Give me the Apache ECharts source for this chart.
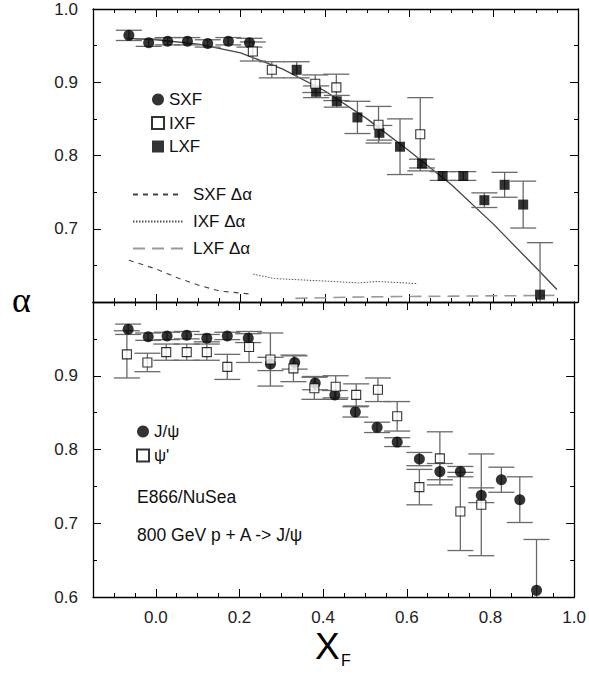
<!DOCTYPE html>
<html><head><meta charset="utf-8">
<script src="https://cdn.jsdelivr.net/npm/echarts@6/dist/echarts.min.js"></script>
<style>html,body{margin:0;padding:0;background:#fff}#c{width:589px;height:675px}</style>
</head><body><div id="c"></div>
<script>
// ---------- data ----------
// top panel
const sxfX = [-0.065, -0.018, 0.027, 0.074, 0.122, 0.171, 0.221];
const sxfY = [0.964, 0.954, 0.956, 0.956, 0.953, 0.956, 0.954];
const sxfErr = [0.007, 0.005, 0.005, 0.005, 0.005, 0.005, 0.006];
const ixfX = [0.229, 0.274, 0.377, 0.427, 0.527, 0.626];
const ixfY = [0.942, 0.917, 0.898, 0.893, 0.842, 0.829];
const ixfErr = [0.013, 0.011, 0.012, 0.018, 0.025, 0.050];
const lxfX = [0.333, 0.379, 0.428, 0.477, 0.529, 0.578, 0.630, 0.679, 0.728, 0.778, 0.826, 0.870, 0.910];
const lxfY = [0.917, 0.887, 0.874, 0.852, 0.831, 0.812, 0.789, 0.772, 0.772, 0.739, 0.760, 0.733, 0.610];
const lxfErr = [0.011, 0.008, 0.008, 0.022, 0.010, 0.038, 0.006, 0.006, 0.006, 0.010, 0.017, 0.032, 0.071];
const fitX = [-0.07, 0.0, 0.1, 0.2, 0.3, 0.4, 0.5, 0.6, 0.7, 0.8, 0.9, 0.95];
const fitY = [0.960, 0.958, 0.952, 0.940, 0.918, 0.888, 0.850, 0.806, 0.760, 0.706, 0.647, 0.617];
const sxfDaX = [-0.065, 0.0, 0.05, 0.1, 0.15, 0.22];
const sxfDaY = [0.657, 0.645, 0.633, 0.623, 0.615, 0.611];
const ixfDaX = [0.23, 0.28, 0.35, 0.42, 0.48, 0.52, 0.56, 0.62];
const ixfDaY = [0.638, 0.632, 0.630, 0.628, 0.626, 0.628, 0.627, 0.625];
const lxfDaX = [0.33, 0.5, 0.7, 0.95];
const lxfDaY = [0.605, 0.607, 0.608, 0.609];
// bottom panel
const jpsiX = [-0.066, -0.018, 0.027, 0.074, 0.122, 0.171, 0.221, 0.274, 0.332, 0.381, 0.428, 0.477, 0.529, 0.577, 0.630, 0.679, 0.728, 0.778, 0.826, 0.870, 0.910];
const jpsiY = [0.963, 0.953, 0.954, 0.955, 0.951, 0.954, 0.951, 0.916, 0.918, 0.890, 0.874, 0.851, 0.830, 0.810, 0.787, 0.770, 0.770, 0.738, 0.759, 0.732, 0.609];
const jpsiErr = [0.007, 0.005, 0.005, 0.005, 0.005, 0.005, 0.006, 0.009, 0.009, 0.009, 0.006, 0.007, 0.007, 0.006, 0.009, 0.011, 0.007, 0.010, 0.017, 0.031, 0.069];
const psipX = [-0.069, -0.020, 0.025, 0.074, 0.122, 0.171, 0.223, 0.274, 0.329, 0.379, 0.430, 0.479, 0.531, 0.577, 0.630, 0.679, 0.728, 0.778];
const psipY = [0.929, 0.918, 0.932, 0.932, 0.932, 0.912, 0.939, 0.922, 0.910, 0.883, 0.885, 0.874, 0.881, 0.845, 0.749, 0.788, 0.716, 0.725];
const psipErr = [0.032, 0.0125, 0.011, 0.011, 0.011, 0.017, 0.021, 0.036, 0.018, 0.015, 0.015, 0.015, 0.016, 0.020, 0.024, 0.036, 0.053, 0.069];
// ticks
const xLabelVals = [0.0, 0.2, 0.4, 0.6, 0.8, 1.0];
const topYLabels = [0.7, 0.8, 0.9, 1.0];
const botYLabels = [0.6, 0.7, 0.8, 0.9];
const yMajor = [0.6, 0.7, 0.8, 0.9, 1.0];

// ---------- helpers ----------
const FONT = 'Liberation Sans, Arial, sans-serif';
const pts = (xs, ys) => xs.map((x, i) => [x, ys[i]]);
const errs = (xs, ys, es) => xs.map((x, i) => [x, ys[i] - es[i], ys[i] + es[i]]);
const YMIN = 0.6, YMAX = 1.0;
function errRender(params, api) {
  const x = api.value(0);
  let lo = api.value(1), hi = api.value(2);
  const loClip = lo < YMIN, hiClip = hi > YMAX;
  lo = Math.max(lo, YMIN); hi = Math.min(hi, YMAX);
  const a = api.coord([x, lo]), b = api.coord([x, hi]);
  const hw = 13;
  const st = {stroke: '#6a6a6a', lineWidth: 1.3};
  const ch = [{type: 'line', shape: {x1: a[0], y1: a[1], x2: b[0], y2: b[1]}, style: st}];
  if (!loClip) ch.push({type: 'line', shape: {x1: a[0] - hw, y1: a[1], x2: a[0] + hw, y2: a[1]}, style: st});
  if (!hiClip) ch.push({type: 'line', shape: {x1: b[0] - hw, y1: b[1], x2: b[0] + hw, y2: b[1]}, style: st});
  return {type: 'group', children: ch};
}
function xAxes(g, labels) {
  const base = {gridIndex: g, type: 'value', min: -0.15, max: 1.0, splitLine: {show: false}};
  return [
    Object.assign({}, base, {position: 'bottom', interval: 0.05,
      axisLine: {show: true, onZero: false, lineStyle: {color: '#000', width: 1.3}},
      axisTick: {show: true, inside: true, length: 4, lineStyle: {color: '#000', width: 1}},
      axisLabel: {show: labels, customValues: xLabelVals, formatter: v => v.toFixed(1),
        fontSize: 17, color: '#222', fontFamily: FONT, margin: 12}}),
    Object.assign({}, base, {position: 'bottom',
      axisLine: {show: false, onZero: false},
      axisTick: {show: true, inside: true, length: 8, customValues: xLabelVals, lineStyle: {color: '#000', width: 1}},
      axisLabel: {show: false}}),
    Object.assign({}, base, {position: 'top', interval: 0.05,
      axisLine: {show: true, onZero: false, lineStyle: {color: '#000', width: 1.3}},
      axisTick: {show: true, inside: true, length: 4, lineStyle: {color: '#000', width: 1}},
      axisLabel: {show: false}}),
    Object.assign({}, base, {position: 'top',
      axisLine: {show: false, onZero: false},
      axisTick: {show: true, inside: true, length: 8, customValues: xLabelVals, lineStyle: {color: '#000', width: 1}},
      axisLabel: {show: false}})
  ];
}
function yAxes(g, labels) {
  const base = {gridIndex: g, type: 'value', min: YMIN, max: YMAX, splitLine: {show: false}};
  return [
    Object.assign({}, base, {position: 'left', interval: 0.05,
      axisLine: {show: true, onZero: false, lineStyle: {color: '#000', width: 1.3}},
      axisTick: {show: true, inside: true, length: 4, lineStyle: {color: '#000', width: 1}},
      axisLabel: {show: true, customValues: labels, formatter: v => v.toFixed(1),
        fontSize: 17, color: '#222', fontFamily: FONT, margin: 15}}),
    Object.assign({}, base, {position: 'left',
      axisLine: {show: false, onZero: false},
      axisTick: {show: true, inside: true, length: 8, customValues: yMajor, lineStyle: {color: '#000', width: 1}},
      axisLabel: {show: false}}),
    Object.assign({}, base, {position: 'right', interval: 0.05,
      axisLine: {show: true, onZero: false, lineStyle: {color: '#000', width: 1.3}},
      axisTick: {show: true, inside: true, length: 4, lineStyle: {color: '#000', width: 1}},
      axisLabel: {show: false}}),
    Object.assign({}, base, {position: 'right',
      axisLine: {show: false, onZero: false},
      axisTick: {show: true, inside: true, length: 8, customValues: yMajor, lineStyle: {color: '#000', width: 1}},
      axisLabel: {show: false}})
  ];
}
const T = {xAxisIndex: 0, yAxisIndex: 0};
const B = {xAxisIndex: 4, yAxisIndex: 4};
const errSeries = (ax, d) => Object.assign({type: 'custom', renderItem: errRender, data: d, z: 2, silent: true}, ax);
const filledCircle = {type: 'scatter', symbol: 'circle', symbolSize: 11, itemStyle: {color: '#000'}, z: 5};
const filledSquare = {type: 'scatter', symbol: 'rect', symbolSize: 10, itemStyle: {color: '#000'}, z: 5};
const openSquare = {type: 'scatter', symbol: 'rect', symbolSize: 9, itemStyle: {color: '#fff', borderColor: '#000', borderWidth: 1.1}, z: 6};

const option = {
  animation: false,
  backgroundColor: '#fff',
  grid: [
    {left: 93, right: 11, top: 9, height: 293},
    {left: 93, right: 11, top: 302, height: 295}
  ],
  xAxis: [...xAxes(0, false), ...xAxes(1, true)],
  yAxis: [...yAxes(0, topYLabels), ...yAxes(1, botYLabels)],
  legend: [
    {data: ['SXF', 'IXF', 'LXF'], orient: 'vertical', left: 146, top: 86, itemWidth: 12, itemHeight: 12, itemGap: 6.5,
      selectedMode: false, textStyle: {fontSize: 17, color: '#111', fontFamily: FONT}},
    {data: ['SXF Δα', 'IXF Δα', 'LXF Δα'], orient: 'vertical', left: 127, top: 181, itemWidth: 50, itemHeight: 14, itemGap: 10,
      selectedMode: false, itemStyle: {opacity: 0},
      textStyle: {fontSize: 17, color: '#111', fontFamily: FONT, padding: [0, 0, 0, 5]}},
    {data: ['J/ψ', "ψ'"], orient: 'vertical', left: 131, top: 418, itemWidth: 12, itemHeight: 12, itemGap: 7,
      selectedMode: false, textStyle: {fontSize: 17, color: '#111', fontFamily: FONT}}
  ],
  graphic: [
    {type: 'text', left: 12, top: 282, style: {text: 'α', fontSize: 36, fontFamily: 'Liberation Serif, serif', fill: '#000'}},
    {type: 'text', left: 315, top: 628, style: {text: 'X', fontSize: 37, fontFamily: FONT, fill: '#000'}},
    {type: 'text', left: 341, top: 652, style: {text: 'F', fontSize: 16, fontFamily: FONT, fill: '#000'}},
    {type: 'text', left: 137, top: 488, style: {text: 'E866/NuSea', fontSize: 17.5, fontFamily: FONT, fill: '#111'}},
    {type: 'text', left: 137, top: 526, style: {text: '800 GeV p + A -> J/ψ', fontSize: 17.5, fontFamily: FONT, fill: '#111'}}
  ],
  series: [
    // top panel
    Object.assign({type: 'line', data: pts(fitX, fitY), symbol: 'none', lineStyle: {color: '#444', width: 1.3}, z: 1, silent: true}, T),
    Object.assign({name: 'SXF Δα', type: 'line', data: pts(sxfDaX, sxfDaY), symbol: 'none', itemStyle: {color: '#444'},
      lineStyle: {color: '#444', width: 1.1, type: [5, 5]}, z: 1}, T),
    Object.assign({name: 'IXF Δα', type: 'line', data: pts(ixfDaX, ixfDaY), symbol: 'none', itemStyle: {color: '#555'},
      lineStyle: {color: '#555', width: 1, type: [1.5, 1.5]}, z: 1}, T),
    Object.assign({name: 'LXF Δα', type: 'line', data: pts(lxfDaX, lxfDaY), symbol: 'none', itemStyle: {color: '#999'},
      lineStyle: {color: '#999', width: 1.6, type: [12, 7]}, z: 1}, T),
    errSeries(T, errs(sxfX, sxfY, sxfErr)),
    errSeries(T, errs(ixfX, ixfY, ixfErr)),
    errSeries(T, errs(lxfX, lxfY, lxfErr)),
    Object.assign({name: 'SXF', data: pts(sxfX, sxfY)}, filledCircle, T),
    Object.assign({name: 'IXF', data: pts(ixfX, ixfY)}, openSquare, T),
    Object.assign({name: 'LXF', data: pts(lxfX, lxfY)}, filledSquare, T),
    // bottom panel
    errSeries(B, errs(jpsiX, jpsiY, jpsiErr)),
    errSeries(B, errs(psipX, psipY, psipErr)),
    Object.assign({name: 'J/ψ', data: pts(jpsiX, jpsiY)}, filledCircle, B),
    Object.assign({name: "ψ'", data: pts(psipX, psipY)}, openSquare, B)
  ]
};
const chart = echarts.init(document.getElementById('c'), null, {renderer: 'svg'});
chart.setOption(option);
</script></body></html>
